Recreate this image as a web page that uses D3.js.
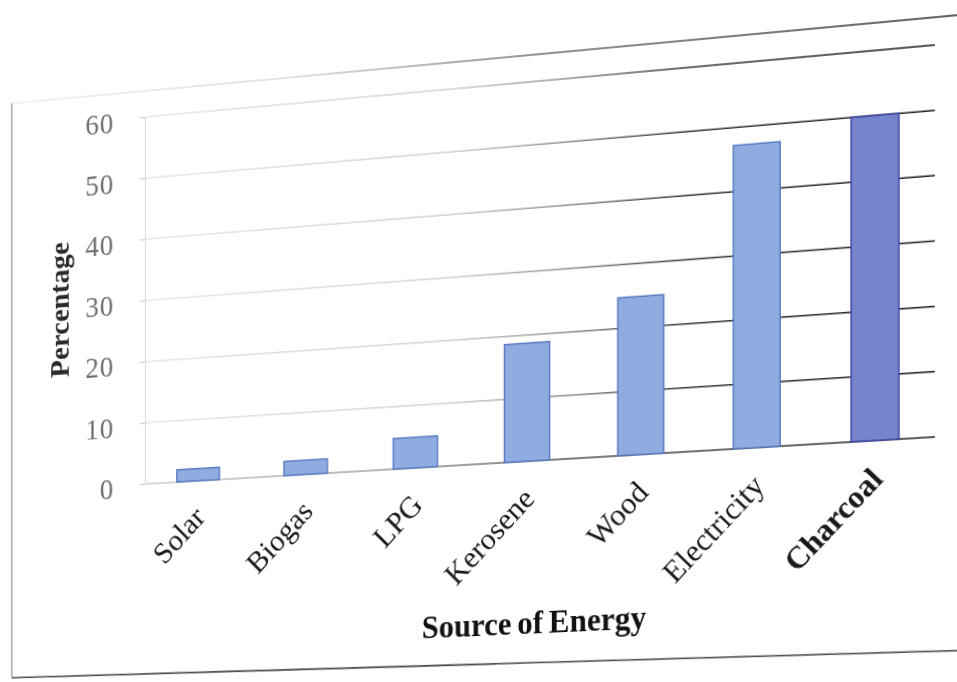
<!DOCTYPE html>
<html><head><meta charset="utf-8">
<script src="https://cdn.jsdelivr.net/npm/d3@7"></script>
<style>
html,body{margin:0;padding:0;background:#fff;overflow:hidden;width:957px;height:682px;}
#chart{position:absolute;left:0;top:0;transform-origin:0 0;}
</style></head><body>
<svg id="chart"></svg>
<script>
// ---- data ----
const categories = ["Solar", "Biogas", "LPG", "Kerosene", "Wood", "Electricity", "Charcoal"];
const percentages = [2.0, 2.3, 4.9, 18.7, 24.8, 47.2, 50.0];
const yTicks = [0, 10, 20, 30, 40, 50, 60];
const yTitle = "Percentage";
const xTitle = "Source of Energy";
const highlighted = "Charcoal";

// ---- flat layout ----
const W = 1000, H = 700;
const plot = {left: 145, right: 935, top: 117, bottom: 484};
const serif = "'Liberation Serif', 'Times New Roman', serif";

const svg = d3.select("#chart").attr("width", W).attr("height", H)
  .style("overflow", "visible");

const x = d3.scaleBand().domain(categories).range([plot.left, plot.right])
  .paddingInner(0.6).paddingOuter(0.3);
const y = d3.scaleLinear().domain([0, 60]).range([plot.bottom, plot.top]);

// photo-like lighting: faint on the left, dark on the right
const defs = svg.append("defs");
function grad(id, x1, x2, stops) {
  const g = defs.append("linearGradient").attr("id", id)
    .attr("gradientUnits", "userSpaceOnUse")
    .attr("x1", x1).attr("x2", x2).attr("y1", 0).attr("y2", 0);
  stops.forEach(([o, c]) => g.append("stop").attr("offset", o).attr("stop-color", c));
}
grad("gridGrad", plot.left, plot.right,
  [[0, "#e4e8e8"], [0.4, "#cfd4d4"], [0.56, "#8a8f90"], [0.7, "#3a3c3e"], [1, "#222"]]);
grad("zeroGrad", plot.left, plot.right,
  [[0, "#c9cdcd"], [0.3, "#a0a4a4"], [0.55, "#555"], [1, "#2a2a2a"]]);
grad("frameGrad", 0, W,
  [[0, "#eceff0"], [0.3, "#d6dada"], [0.55, "#6d7173"], [1, "#2a2a2a"]]);

// frame of the chart on the page
svg.append("line").attr("x1", 0).attr("x2", W + 40).attr("y1", 91).attr("y2", 91)
  .attr("stroke", "url(#frameGrad)").attr("stroke-width", 1.6);
svg.append("line").attr("x1", 1).attr("x2", 1).attr("y1", 91).attr("y2", 672)
  .attr("stroke", "#9a9aa0").attr("stroke-width", 1.4);
svg.append("line").attr("x1", 1).attr("x2", W + 40).attr("y1", 672).attr("y2", 686)
  .attr("stroke", "#4a4a4a").attr("stroke-width", 1.6);

// gridlines
svg.append("g").selectAll("line").data(yTicks).join("line")
  .attr("x1", plot.left).attr("x2", plot.right)
  .attr("y1", d => y(d)).attr("y2", d => y(d))
  .attr("stroke", d => d === 0 ? "url(#zeroGrad)" : "url(#gridGrad)")
  .attr("stroke-width", d => d === 0 ? 1.7 : 1.5);

// y axis
const yAxis = d3.axisLeft(y).tickValues(yTicks).tickSize(6).tickPadding(27);
const ya = svg.append("g").attr("transform", `translate(${plot.left},0)`).call(yAxis);
ya.select(".domain").attr("stroke", "#dadede").attr("stroke-width", 1.2);
ya.selectAll(".tick line").attr("stroke", "#c4c8c8");
ya.selectAll(".tick text")
  .attr("font-family", serif)
  .attr("font-size", 29).attr("fill", "#6e6e72").attr("dy", "0.42em")
  .attr("letter-spacing", "1");

// bars
svg.append("g").selectAll("rect").data(categories.map((c, i) => ({c, v: percentages[i]})))
  .join("rect")
  .attr("x", d => x(d.c)).attr("width", x.bandwidth())
  .attr("y", d => y(d.v)).attr("height", d => y(0) - y(d.v))
  .attr("fill", d => d.c === highlighted ? "#7584cc" : "#8fabdf")
  .attr("stroke", d => d.c === highlighted ? "#3a44a6" : "#5478c2")
  .attr("stroke-width", 1.4);

// x tick labels (rotated)
svg.append("g").selectAll("text").data(categories).join("text")
  .attr("transform", d => `translate(${x(d) + x.bandwidth() / 2 + 9},${plot.bottom + 38}) rotate(-45)`)
  .attr("text-anchor", "end")
  .attr("font-family", serif)
  .attr("font-size", 30)
  .attr("font-weight", d => d === highlighted ? "bold" : "normal")
  .attr("fill", "#1a1a1a")
  .text(d => d);

// axis titles
svg.append("text")
  .attr("transform", `translate(53,${(plot.top + plot.bottom) / 2 + 3}) rotate(-90)`)
  .attr("text-anchor", "middle").attr("dominant-baseline", "central")
  .attr("font-family", serif)
  .attr("font-size", 29).attr("font-weight", "bold").attr("fill", "#2a2a2e")
  .text(yTitle);
svg.append("text")
  .attr("x", 546).attr("y", 651).attr("text-anchor", "middle")
  .attr("font-family", serif)
  .attr("font-size", 31).attr("font-weight", "bold").attr("fill", "#111")
  .attr("word-spacing", "-2")
  .text(xTitle);

// ---- photographed perspective: map the flat plot corners to where they appear ----
function homography(src, dst) {
  const A = [], b = [];
  for (let i = 0; i < 4; i++) {
    const [sx, sy] = src[i], [dx, dy] = dst[i];
    A.push([sx, sy, 1, 0, 0, 0, -sx * dx, -sy * dx]); b.push(dx);
    A.push([0, 0, 0, sx, sy, 1, -sx * dy, -sy * dy]); b.push(dy);
  }
  const n = 8;
  for (let c = 0; c < n; c++) {
    let p = c;
    for (let r = c + 1; r < n; r++) if (Math.abs(A[r][c]) > Math.abs(A[p][c])) p = r;
    [A[c], A[p]] = [A[p], A[c]]; [b[c], b[p]] = [b[p], b[c]];
    for (let r = 0; r < n; r++) {
      if (r === c) continue;
      const f = A[r][c] / A[c][c];
      for (let k = c; k < n; k++) A[r][k] -= f * A[c][k];
      b[r] -= f * b[c];
    }
  }
  return b.map((v, i) => v / A[i][i]);
}
const src = [[plot.left, plot.top], [plot.right, plot.top], [plot.left, plot.bottom], [plot.right, plot.bottom]];
const dst = [[145, 117], [935, 45], [145, 484], [935, 437]];
const h = homography(src, dst);
const m = [h[0], h[3], 0, h[6], h[1], h[4], 0, h[7], 0, 0, 1, 0, h[2], h[5], 0, 1];
d3.select("#chart").style("transform", `matrix3d(${m.join(",")})`);
</script>
</body></html>
